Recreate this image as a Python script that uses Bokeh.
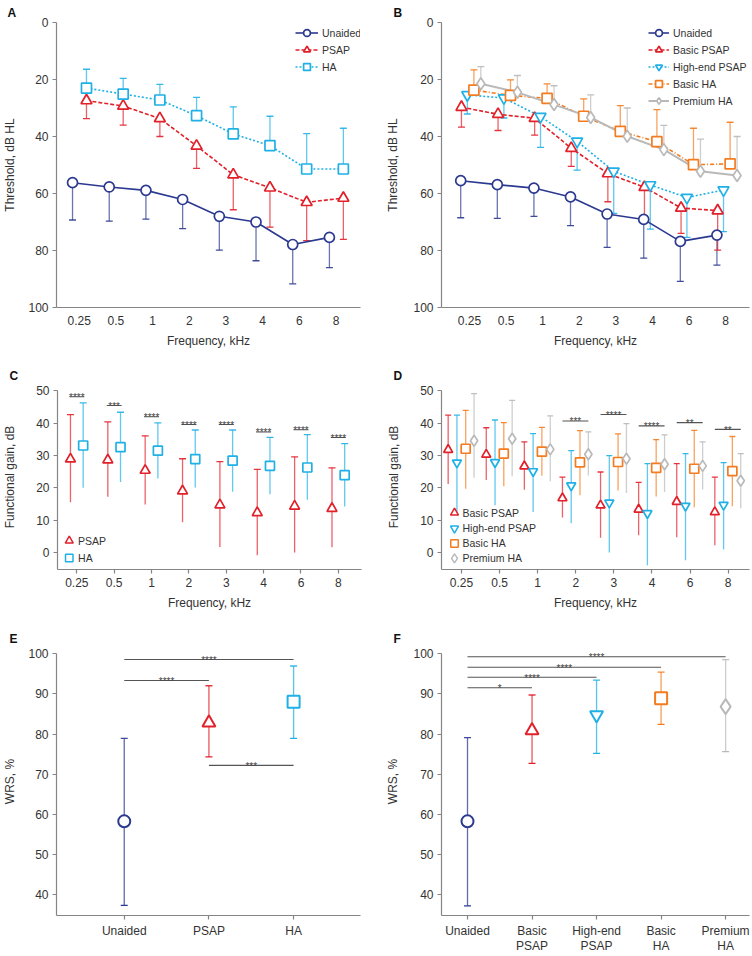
from bokeh.plotting import figure
from bokeh.models import Range1d, FixedTicker, Legend, LegendItem
from bokeh.layouts import column, row
from bokeh.embed import file_html
from bokeh.resources import INLINE
from bokeh.core.properties import value

FONT = "Liberation Sans"
AX = "#858585"
TXT = "#333333"
NAVY = "#2b3990"
RED = "#e2202a"
CYAN = "#1fb0e6"
ORANGE = "#f47c20"
GRAY = "#b9b9b9"

# ---------------- data ----------------
freq_labels = ["0.25", "0.5", "1", "2", "3", "4", "6", "8"]

# Panel A: thresholds (dB HL) and SD whisker ends
a_unaided = [56.2, 57.7, 58.9, 62.1, 68.0, 70.0, 77.9, 75.4]
a_unaided_err = [69.3, 69.7, 69.0, 72.3, 79.9, 83.6, 91.7, 86.0]
a_psap = [27.4, 29.3, 33.7, 43.3, 53.4, 58.0, 63.1, 61.6]
a_psap_err = [33.7, 36.0, 40.0, 51.2, 65.7, 71.8, 76.5, 76.1]
a_ha = [23.0, 25.1, 27.2, 32.7, 39.1, 43.2, 51.4, 51.4]
a_ha_err = [16.4, 19.6, 21.7, 26.3, 29.6, 32.9, 39.0, 37.1]

# Panel B
b_unaided = [55.5, 56.9, 58.1, 61.2, 67.2, 69.1, 76.8, 74.6]
b_unaided_err = [68.5, 68.7, 68.0, 71.3, 78.9, 82.7, 90.8, 85.1]
b_basic_psap = [29.7, 32.2, 33.6, 44.1, 53.0, 57.8, 65.1, 66.0]
b_basic_psap_err = [36.7, 37.9, 39.5, 50.5, 62.9, 68.0, 74.0, 79.9]
b_highend_psap = [25.4, 26.5, 33.0, 41.7, 52.2, 57.0, 61.4, 58.8]
b_highend_psap_err = [32.1, 33.5, 43.8, 51.8, 67.0, 72.5, 75.4, 73.4]
b_basic_ha = [23.7, 25.6, 26.6, 32.9, 38.2, 41.8, 49.9, 49.6]
b_basic_ha_err = [16.6, 20.1, 21.5, 26.8, 29.2, 30.6, 37.1, 35.0]
b_premium_ha = [21.5, 24.5, 28.8, 33.3, 39.9, 44.6, 52.2, 53.7]
b_premium_ha_err = [15.5, 18.6, 22.2, 25.4, 30.0, 36.1, 40.9, 40.0]

# Panel C: functional gain (dB), mean, upper and lower whisker
c_psap = [28.9, 28.6, 25.4, 19.0, 14.7, 12.3, 14.3, 13.6]
c_psap_hi = [42.7, 40.4, 36.1, 29.0, 28.1, 25.7, 29.6, 26.2]
c_psap_lo = [15.5, 17.2, 14.8, 9.3, 1.7, -0.9, 0.0, 1.6]
c_ha = [33.1, 32.6, 31.5, 28.9, 28.4, 26.8, 26.3, 23.9]
c_ha_hi = [46.3, 43.4, 40.1, 37.9, 37.9, 35.6, 36.5, 33.7]
c_ha_lo = [20.0, 21.8, 22.9, 20.1, 18.8, 18.0, 16.3, 14.2]
c_sig_y = [48.2, 45.5, 42.0, 39.6, 39.6, 37.3, 38.0, 35.6]
c_sig_text = ["****", "***", "****", "****", "****", "****", "****", "****"]

# Panel D
d_basic_psap = [31.8, 30.3, 26.7, 16.8, 14.6, 13.3, 15.7, 12.5]
d_basic_psap_hi = [42.5, 38.6, 34.2, 23.3, 24.9, 21.7, 27.5, 23.3]
d_basic_psap_lo = [21.2, 22.4, 19.4, 10.8, 4.5, 5.3, 4.7, 2.2]
d_highend_psap = [27.8, 27.9, 25.1, 20.7, 15.4, 12.1, 14.4, 14.7]
d_highend_psap_hi = [42.5, 41.0, 36.8, 31.5, 30.0, 27.5, 30.6, 27.8]
d_highend_psap_lo = [12.5, 14.6, 12.5, 9.0, 0.0, -4.0, -2.4, 0.9]
d_basic_ha = [32.1, 30.6, 31.2, 27.9, 28.0, 26.2, 25.9, 25.2]
d_basic_ha_hi = [44.0, 40.2, 38.7, 37.7, 36.7, 34.9, 37.8, 35.9]
d_basic_ha_lo = [19.7, 20.5, 23.7, 17.7, 19.2, 17.3, 14.0, 14.3]
d_premium_ha = [34.6, 35.2, 31.9, 30.4, 29.0, 27.3, 26.8, 22.2]
d_premium_ha_hi = [49.2, 47.1, 42.3, 37.3, 39.9, 36.4, 34.2, 30.6]
d_premium_ha_lo = [23.1, 23.6, 22.0, 23.8, 18.4, 18.7, 19.5, 13.7]
d_sig_idx = [3, 4, 5, 6, 7]
d_sig_y = [40.7, 42.7, 39.2, 40.2, 38.1]
d_sig_text = ["***", "****", "****", "**", "**"]

# Panel E: WRS (%)
e_cats = ["Unaided", "PSAP", "HA"]
e_mean = [58.3, 82.8, 88.0]
e_hi = [78.9, 92.0, 96.9]
e_lo = [37.4, 74.3, 78.9]
e_sig_from = [0, 0, 1]
e_sig_to = [2, 1, 2]
e_sig_y = [98.5, 93.3, 72.2]
e_sig_text = ["****", "****", "***"]

# Panel F
f_cats = ["Unaided", "Basic\nPSAP", "High-end\nPSAP", "Basic\nHA", "Premium\nHA"]
f_mean = [58.3, 80.9, 84.7, 88.9, 86.8]
f_hi = [79.1, 89.7, 93.4, 95.4, 98.5]
f_lo = [37.3, 72.7, 75.2, 82.4, 75.6]
f_sig_from = [0, 0, 0, 0]
f_sig_to = [4, 3, 2, 1]
f_sig_y = [99.2, 96.6, 94.1, 91.5]
f_sig_text = ["****", "****", "****", "*"]


# ---------------- helpers ----------------
def make_fig(w, h, xr, yr, left, right, top, bottom, letter, letter_off, letter_standoff):
    p = figure(width=w, height=h, x_range=Range1d(*xr), y_range=Range1d(*yr),
               output_backend="svg", toolbar_location=None,
               min_border_left=left, min_border_right=right,
               min_border_top=top, min_border_bottom=bottom)
    p.outline_line_color = None
    p.xgrid.visible = False
    p.ygrid.visible = False
    p.background_fill_color = "white"
    p.border_fill_color = "white"
    p.title.text = letter
    p.title.text_font = FONT
    p.title.text_font_size = "12px"
    p.title.text_font_style = "bold"
    p.title.text_color = "#111111"
    p.title.align = "left"
    p.title.offset = letter_off
    p.title.standoff = letter_standoff
    for ax in (p.xaxis[0], p.yaxis[0]):
        ax.axis_line_color = AX
        ax.axis_line_width = 1.2
        ax.major_tick_line_color = AX
        ax.major_tick_line_width = 1.2
        ax.minor_tick_line_color = None
        ax.major_tick_in = 0
        ax.major_tick_out = 4
        ax.major_label_text_font = FONT
        ax.major_label_text_font_size = "12px"
        ax.major_label_text_color = TXT
        ax.axis_label_text_font = FONT
        ax.axis_label_text_font_size = "12px"
        ax.axis_label_text_font_style = "normal"
        ax.axis_label_text_color = TXT
        ax.major_label_standoff = 4
    return p


def set_x_cats(p, labels):
    p.xaxis.ticker = FixedTicker(ticks=list(range(len(labels))))
    p.xaxis.major_label_overrides = {i: lab for i, lab in enumerate(labels)}


def shift(n, off):
    return [i + off for i in range(n)]


def errbars(p, xs, y0, y1, color, cap=7, alpha=0.7):
    p.segment(x0=xs, y0=y0, x1=xs, y1=y1, line_color=color, line_width=1.3, line_alpha=alpha)
    p.scatter(x=xs, y=y1, marker="dash", size=cap, line_color=color, line_width=1.3, line_alpha=0.9)


def markers(p, xs, ys, color, marker, size, lw=1.7):
    return p.scatter(x=xs, y=ys, marker=marker, size=size, line_color=color,
                     fill_color="white", line_width=lw)


def stars(p, xs, ys, texts):
    p.text(x=xs, y=ys, text=texts, text_font=value(FONT), text_font_size="10px",
           text_color="#444444", text_align="center", text_baseline="alphabetic", y_offset=1)


def style_legend(leg, lh, gw, fs="10.5px"):
    leg.border_line_color = None
    leg.background_fill_alpha = 0
    leg.padding = 0
    leg.spacing = 0
    leg.margin = 0
    leg.label_text_font = FONT
    leg.label_text_font_size = fs
    leg.label_text_color = TXT
    leg.label_height = lh
    leg.glyph_height = lh
    leg.glyph_width = gw
    leg.label_standoff = 4


def manual_legend(p, xr, yr, fw, fh, mx, rows_y, labels, colors, mks, sizes, tx):
    # place legend markers/texts at given pixel offsets from the frame's bottom-left
    ux = (xr[1] - xr[0]) / fw
    uy = (yr[1] - yr[0]) / fh
    xs_m = [xr[0] + mx * ux] * len(labels)
    ys = [yr[0] + r * uy for r in rows_y]
    for xm, ym, c, m, s in zip(xs_m, ys, colors, mks, sizes):
        p.scatter(x=[xm], y=[ym], marker=m, size=s, line_color=c, fill_color="white", line_width=1.5)
    p.text(x=[xr[0] + tx * ux] * len(labels), y=ys, text=labels, text_font=value(FONT),
           text_font_size="10.5px", text_color=TXT, text_baseline="middle", text_align="left")


n = len(freq_labels)

# ---------------- Panel A ----------------
xr_a = (-0.617, 7.667)
pa = make_fig(376, 360, xr_a, (100, 0), 51, 16, 22, 53, "A", -49, 6)
set_x_cats(pa, freq_labels)
pa.yaxis.ticker = FixedTicker(ticks=[0, 20, 40, 60, 80, 100])
pa.yaxis.axis_label = "Threshold, dB HL"
pa.yaxis.axis_label_standoff = 8
pa.xaxis.axis_label = "Frequency, kHz"
pa.xaxis.major_tick_out = 0
pa.xaxis.major_label_standoff = 8
pa.xaxis.axis_label_standoff = 6

xa_u = shift(n, -0.18)
xa_p = shift(n, 0.2)
errbars(pa, xa_u, a_unaided, a_unaided_err, NAVY)
errbars(pa, xa_p, a_psap, a_psap_err, RED)
errbars(pa, xa_p, a_ha, a_ha_err, CYAN)
la_u = pa.line(xa_u, a_unaided, line_color=NAVY, line_width=1.6)
la_p = pa.line(xa_p, a_psap, line_color=RED, line_width=1.6, line_dash="4 2")
la_h = pa.line(xa_p, a_ha, line_color=CYAN, line_width=1.6, line_dash="2 2")
ma_u = markers(pa, xa_u, a_unaided, NAVY, "circle", 10)
ma_p = markers(pa, xa_p, a_psap, RED, "triangle", 11)
ma_h = markers(pa, xa_p, a_ha, CYAN, "square", 10)
leg_a = Legend(items=[LegendItem(label="Unaided", renderers=[la_u, ma_u]),
                      LegendItem(label="PSAP", renderers=[la_p, ma_p]),
                      LegendItem(label="HA", renderers=[la_h, ma_h])],
               location=(239, 232))
style_legend(leg_a, 17, 23)
pa.add_layout(leg_a)

# ---------------- Panel B ----------------
xr_b = (-0.765, 7.65)
pb = make_fig(374, 360, xr_b, (100, 0), 65, 1, 22, 53, "B", -48, 6)
set_x_cats(pb, freq_labels)
pb.yaxis.ticker = FixedTicker(ticks=[0, 20, 40, 60, 80, 100])
pb.yaxis.axis_label = "Threshold, dB HL"
pb.yaxis.axis_label_standoff = 10
pb.xaxis.axis_label = "Frequency, kHz"
pb.xaxis.major_tick_out = 0
pb.xaxis.major_label_standoff = 8
pb.xaxis.axis_label_standoff = 6

xb_u = shift(n, -0.24)
xb_bp = shift(n, -0.22)
xb_hp = shift(n, -0.06)
xb_bh = shift(n, 0.12)
xb_ph = shift(n, 0.31)
errbars(pb, xb_u, b_unaided, b_unaided_err, NAVY)
errbars(pb, xb_bp, b_basic_psap, b_basic_psap_err, RED)
errbars(pb, xb_hp, b_highend_psap, b_highend_psap_err, CYAN)
errbars(pb, xb_bh, b_basic_ha, b_basic_ha_err, ORANGE)
errbars(pb, xb_ph, b_premium_ha, b_premium_ha_err, GRAY)
lb_u = pb.line(xb_u, b_unaided, line_color=NAVY, line_width=1.6)
lb_bp = pb.line(xb_bp, b_basic_psap, line_color=RED, line_width=1.6, line_dash="4 2")
lb_hp = pb.line(xb_hp, b_highend_psap, line_color=CYAN, line_width=1.6, line_dash="2 2")
lb_bh = pb.line(xb_bh, b_basic_ha, line_color=ORANGE, line_width=1.6, line_dash="4 2 1 2")
lb_ph = pb.line(xb_ph, b_premium_ha, line_color=GRAY, line_width=2)
mb_u = markers(pb, xb_u, b_unaided, NAVY, "circle", 10)
mb_bp = markers(pb, xb_bp, b_basic_psap, RED, "triangle", 11)
mb_hp = markers(pb, xb_hp, b_highend_psap, CYAN, "inverted_triangle", 11)
mb_bh = markers(pb, xb_bh, b_basic_ha, ORANGE, "square", 10)
mb_ph = markers(pb, xb_ph, b_premium_ha, GRAY, "diamond", 12)
leg_b = Legend(items=[LegendItem(label="Unaided", renderers=[lb_u, mb_u]),
                      LegendItem(label="Basic PSAP", renderers=[lb_bp, mb_bp]),
                      LegendItem(label="High-end PSAP", renderers=[lb_hp, mb_hp]),
                      LegendItem(label="Basic HA", renderers=[lb_bh, mb_bh]),
                      LegendItem(label="Premium HA", renderers=[lb_ph, mb_ph])],
               location=(207, 198))
style_legend(leg_b, 17, 21)
pb.add_layout(leg_b)

# ---------------- Panel C ----------------
xr_c = (-0.517, 7.62)
yr_cd = (-5.3, 52)
pc = make_fig(376, 265, xr_c, yr_cd, 51, 15, 24, 56, "C", -48, 3)
set_x_cats(pc, freq_labels)
pc.yaxis.ticker = FixedTicker(ticks=[0, 10, 20, 30, 40, 50])
pc.yaxis.bounds = (-5.3, 50)
pc.yaxis.axis_label = "Functional gain, dB"
pc.yaxis.axis_label_standoff = 16
pc.xaxis.axis_label = "Frequency, kHz"
pc.xaxis.axis_label_standoff = 6

xc_p = shift(n, -0.17)
xc_h = shift(n, 0.17)
errbars(pc, xc_p, c_psap_lo, c_psap_hi, RED, cap=7)
errbars(pc, xc_h, c_ha_lo, c_ha_hi, CYAN, cap=7)
markers(pc, xc_p, c_psap, RED, "triangle", 10)
markers(pc, xc_h, c_ha, CYAN, "square", 9)
pc.segment(x0=shift(n, -0.2), y0=c_sig_y, x1=shift(n, 0.2), y1=c_sig_y, line_color="#555555", line_width=1.1)
stars(pc, list(range(n)), c_sig_y, c_sig_text)
manual_legend(pc, xr_c, yr_cd, 310, 185, 12, [28.7, 11.4], ["PSAP", "HA"], [RED, CYAN],
              ["triangle", "square"], [8, 7.5], 21)

# ---------------- Panel D ----------------
xr_d = (-0.525, 7.56)
pd_ = make_fig(374, 265, xr_d, yr_cd, 65, 1, 24, 56, "D", -48, 3)
set_x_cats(pd_, freq_labels)
pd_.yaxis.ticker = FixedTicker(ticks=[0, 10, 20, 30, 40, 50])
pd_.yaxis.bounds = (-5.3, 50)
pd_.yaxis.axis_label = "Functional gain, dB"
pd_.yaxis.axis_label_standoff = 16
pd_.xaxis.axis_label = "Frequency, kHz"
pd_.xaxis.axis_label_standoff = 6

xd_bp = shift(n, -0.35)
xd_hp = shift(n, -0.12)
xd_bh = shift(n, 0.11)
xd_ph = shift(n, 0.33)
errbars(pd_, xd_bp, d_basic_psap_lo, d_basic_psap_hi, RED, cap=6)
errbars(pd_, xd_hp, d_highend_psap_lo, d_highend_psap_hi, CYAN, cap=6)
errbars(pd_, xd_bh, d_basic_ha_lo, d_basic_ha_hi, ORANGE, cap=6)
errbars(pd_, xd_ph, d_premium_ha_lo, d_premium_ha_hi, GRAY, cap=6)
markers(pd_, xd_bp, d_basic_psap, RED, "triangle", 9)
markers(pd_, xd_hp, d_highend_psap, CYAN, "inverted_triangle", 9)
markers(pd_, xd_bh, d_basic_ha, ORANGE, "square", 9)
markers(pd_, xd_ph, d_premium_ha, GRAY, "diamond", 11)
pd_.segment(x0=[i - 0.35 for i in d_sig_idx], y0=d_sig_y, x1=[i + 0.33 for i in d_sig_idx], y1=d_sig_y,
            line_color="#555555", line_width=1.1)
stars(pd_, [i - 0.01 for i in d_sig_idx], d_sig_y, d_sig_text)
manual_legend(pd_, xr_d, yr_cd, 308, 185, 13, [56.7, 41.1, 26.1, 11.1],
              ["Basic PSAP", "High-end PSAP", "Basic HA", "Premium HA"],
              [RED, CYAN, ORANGE, GRAY], ["triangle", "inverted_triangle", "square", "diamond"],
              [8, 8, 7.5, 9], 21)

# ---------------- Panel E ----------------
xr_e = (-0.8, 2.79)
yr_ef = (34.9, 101.5)
pe = make_fig(376, 330, xr_e, yr_ef, 51, 16, 22, 34, "E", -47, 4)
set_x_cats(pe, e_cats)
pe.yaxis.ticker = FixedTicker(ticks=[40, 50, 60, 70, 80, 90, 100])
pe.yaxis.bounds = (34.9, 100)
pe.yaxis.axis_label = "WRS, %"
pe.yaxis.axis_label_standoff = 8
pe.xaxis.major_label_standoff = 4
pe.xaxis.major_label_text_line_height = 1.1
xe = list(range(len(e_cats)))
e_colors = [NAVY, RED, CYAN]
e_markers = ["circle", "triangle", "square"]
e_sizes = [12, 13, 12]
for i in xe:
    errbars(pe, [xe[i]], [e_lo[i]], [e_hi[i]], e_colors[i], cap=7, alpha=0.75)
    pe.scatter(x=[xe[i]], y=[e_lo[i]], marker="dash", size=7, line_color=e_colors[i], line_width=1.3)
for i in xe:
    markers(pe, [xe[i]], [e_mean[i]], e_colors[i], e_markers[i], e_sizes[i], lw=2)
pe.segment(x0=e_sig_from, y0=e_sig_y, x1=e_sig_to, y1=e_sig_y, line_color="#555555", line_width=1.1)
stars(pe, [(a + b) / 2 for a, b in zip(e_sig_from, e_sig_to)], e_sig_y, e_sig_text)

# ---------------- Panel F ----------------
xr_f = (-0.403, 4.37)
pf = make_fig(374, 330, xr_f, yr_ef, 65, 1, 22, 34, "F", -48, 4)
set_x_cats(pf, f_cats)
pf.yaxis.ticker = FixedTicker(ticks=[40, 50, 60, 70, 80, 90, 100])
pf.yaxis.bounds = (34.9, 100)
pf.yaxis.axis_label = "WRS, %"
pf.yaxis.axis_label_standoff = 10
pf.xaxis.major_label_standoff = 4
pf.xaxis.major_label_text_line_height = 1.1
xf = list(range(len(f_cats)))
f_colors = [NAVY, RED, CYAN, ORANGE, GRAY]
f_markers = ["circle", "triangle", "inverted_triangle", "square", "diamond"]
f_sizes = [12, 13, 13, 12, 15]
for i in xf:
    errbars(pf, [xf[i]], [f_lo[i]], [f_hi[i]], f_colors[i], cap=7, alpha=0.75)
    pf.scatter(x=[xf[i]], y=[f_lo[i]], marker="dash", size=7, line_color=f_colors[i], line_width=1.3)
for i in xf:
    markers(pf, [xf[i]], [f_mean[i]], f_colors[i], f_markers[i], f_sizes[i], lw=2)
pf.segment(x0=f_sig_from, y0=f_sig_y, x1=f_sig_to, y1=f_sig_y, line_color="#555555", line_width=1.1)
stars(pf, [(a + b) / 2 for a, b in zip(f_sig_from, f_sig_to)], f_sig_y, f_sig_text)

layout = column(row(pa, pb), row(pc, pd_), row(pe, pf))
open("out.html", "w").write(file_html(layout, INLINE))
